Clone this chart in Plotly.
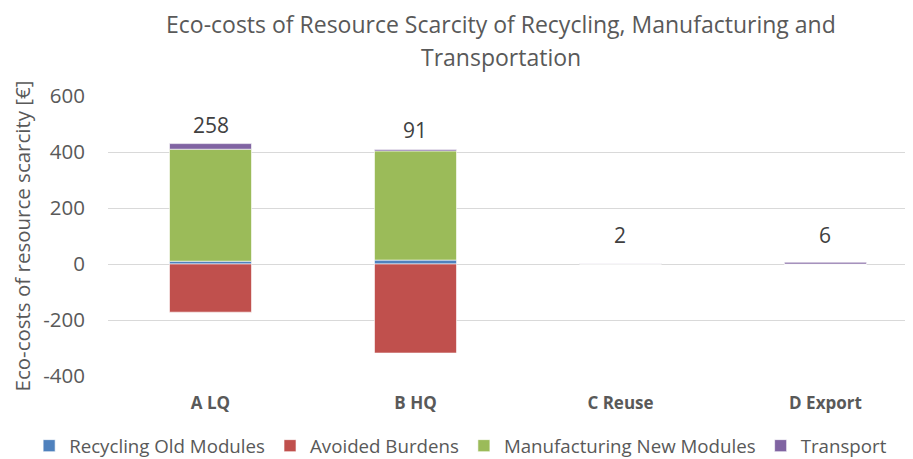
import plotly.graph_objects as go

categories = ["A LQ", "B HQ", "C Reuse", "D Export"]
recycling_old = [10, 14, 1, 0]
avoided_burdens = [-172, -318, 0, 0]
manufacturing_new = [400, 390, 0, 0]
transport = [20, 5, 1, 6]

y_tick_values = [-400, -200, 0, 200, 400, 600]
y_tick_labels = ["-400", "-200", "0", "200", "400", "600"]

title_lines = ["Eco-costs of Resource Scarcity of Recycling, Manufacturing and",
               "Transportation"]

series = [
    ("Recycling Old Modules", recycling_old, "#4F81BD"),
    ("Avoided Burdens", avoided_burdens, "#C0504D"),
    ("Manufacturing New Modules", manufacturing_new, "#9BBB59"),
    ("Transport", transport, "#8064A2"),
]

FONT = "'Open Sans', sans-serif"
GREY = "#595959"

fig = go.Figure()
for name, vals, col in series:
    fig.add_trace(go.Bar(
        x=categories, y=vals, name=name,
        marker=dict(color=col, line=dict(color="white", width=0.6)),
    ))

stacks = list(zip(recycling_old, avoided_burdens, manufacturing_new, transport))
totals = [sum(v) for v in stacks]
pos_tops = [sum(x for x in v if x > 0) for v in stacks]
for cat, tot, top in zip(categories, totals, pos_tops):
    fig.add_annotation(
        x=cat, y=max(top, 35), text=str(tot), showarrow=False,
        yanchor="bottom", yshift=3,
        font=dict(family=FONT, size=21, color="#404040"),
    )

for i, line in enumerate(title_lines):
    fig.add_annotation(
        xref="paper", yref="paper", x=0.4834, y=1.258 - 0.118 * i,
        xanchor="center", yanchor="middle", text=line, showarrow=False,
        font=dict(family=FONT, size=23, color=GREY),
    )

fig.update_layout(
    width=913, height=459,
    barmode="relative", bargap=0.6,
    paper_bgcolor="white", plot_bgcolor="white",
    margin=dict(l=100, r=0, t=88, b=91, autoexpand=False),
    font=dict(family=FONT, color=GREY),
    xaxis=dict(
        range=[-0.5, 3.466], showgrid=False, showline=False, ticks="",
        tickfont=dict(family=FONT, size=17, color=GREY, weight="bold"),
        ticklabelstandoff=15,
    ),
    yaxis=dict(
        range=[-400, 600], tickvals=y_tick_values, ticktext=y_tick_labels,
        showgrid=True, gridcolor="#D9D9D9",
        gridwidth=1, zeroline=True, zerolinecolor="#D9D9D9", zerolinewidth=1,
        tickfont=dict(family=FONT, size=20.5, color=GREY),
        ticklabelstandoff=22,
        title=dict(text="Eco-costs of resource scarcity [€]",
                   font=dict(family=FONT, size=20.5, color=GREY), standoff=13),
    ),
    legend=dict(
        orientation="h", x=-0.097, xanchor="left", y=-0.25, yanchor="middle",
        font=dict(family=FONT, size=18.7, color=GREY),
        itemwidth=30, tracegroupgap=0,
    ),
)

fig.write_html("out.html")
